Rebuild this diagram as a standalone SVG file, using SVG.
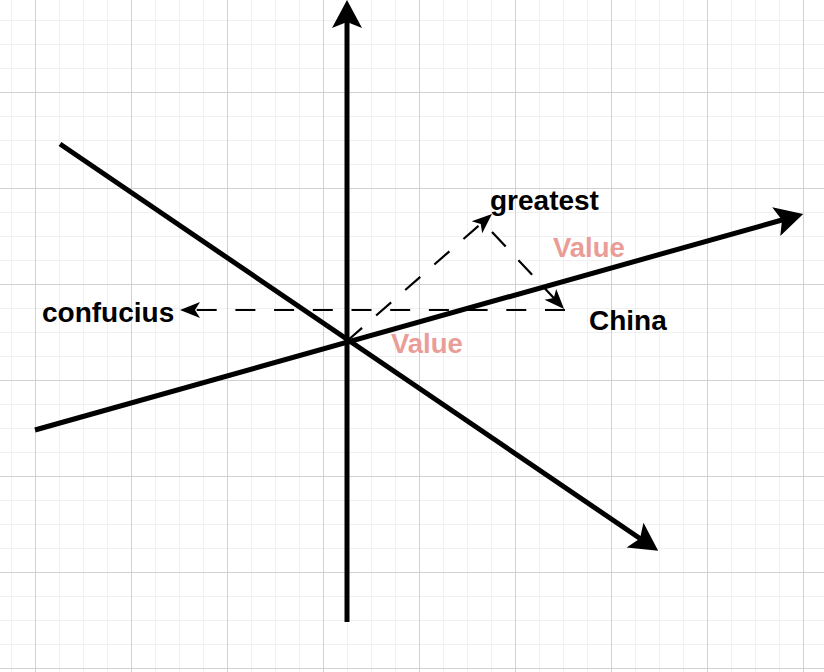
<svg xmlns="http://www.w3.org/2000/svg" width="824" height="672" viewBox="0 0 824 672">
  <defs>
    <pattern id="minor" patternUnits="userSpaceOnUse" x="11" y="20" width="24" height="24">
      <path d="M0,0.5 H24 M0.5,0 V24" fill="none" stroke="#f0f0f0" stroke-width="1"/>
    </pattern>
    <pattern id="major" patternUnits="userSpaceOnUse" x="35" y="92" width="96" height="96">
      <path d="M0,0.5 H96 M0.5,0 V96" fill="none" stroke="#d2d2d2" stroke-width="1"/>
    </pattern>
    <marker id="bigArrow" markerUnits="userSpaceOnUse" orient="auto" refX="0" refY="0" markerWidth="60" markerHeight="60" viewBox="-30 -30 60 60" overflow="visible">
      <path d="M22,0 L-6,-15 L0,0 L-6,15 Z" fill="#000"/>
    </marker>
    <marker id="smallArrow" markerUnits="userSpaceOnUse" orient="auto" refX="0" refY="0" markerWidth="40" markerHeight="40" viewBox="-20 -20 40 40" overflow="visible">
      <path d="M15,0 L-5,-8 L0,0 L-5,8 Z" fill="#000"/>
    </marker>
    <style>
      .axis { fill: none; stroke: #000; stroke-width: 5; marker-end: url(#bigArrow); }
      .vec { fill: none; stroke: #000; stroke-width: 2.2; stroke-dasharray: 20 18.7; marker-end: url(#smallArrow); }
      .lbl { font-family: "Liberation Sans", Arial, Helvetica, sans-serif; font-weight: bold; font-size: 28px; fill: #000; }
      .val { fill: #ea9c97; font-size: 27.5px; }
    </style>
  </defs>
  <rect x="0" y="0" width="824" height="672" fill="#fff"/>
  <rect x="0" y="0" width="824" height="672" fill="url(#minor)"/>
  <rect x="0" y="0" width="824" height="672" fill="url(#major)"/>

  <g id="connectors">
    <line id="axis-vertical" class="axis" x1="347" y1="622" x2="347" y2="22"/>
    <line id="axis-diag-down" class="axis" x1="60" y1="144" x2="640" y2="538.5"/>
    <line id="axis-diag-up" class="axis" x1="35" y1="430" x2="782" y2="220"/>
    <line id="vec-greatest" class="vec" x1="347" y1="341" x2="480.7" y2="223.9"/>
    <line id="vec-china" class="vec" x1="492" y1="232" x2="553.8" y2="298"/>
    <line id="vec-confucius" class="vec" x1="565" y1="310" x2="195" y2="310"/>
  </g>

  <g id="node-greatest"><text class="lbl" x="490" y="210">greatest</text></g>
  <g id="node-value-upper"><text class="lbl val" x="553" y="257">Value</text></g>
  <g id="node-value-lower"><text class="lbl val" x="391" y="353">Value</text></g>
  <g id="node-china"><text class="lbl" x="589" y="330">China</text></g>
  <g id="node-confucius"><text class="lbl" x="42" y="322">confucius</text></g>
</svg>
